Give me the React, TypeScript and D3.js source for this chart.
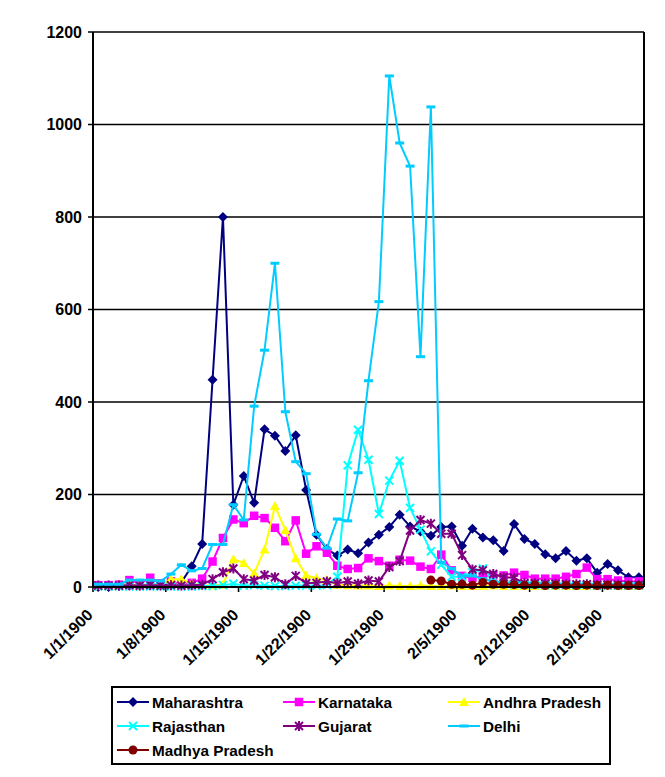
import { useEffect } from 'react';
import * as d3 from 'd3';

// daily counts, 1/1/1900 .. 2/22/1900 (53 days)
const tickLabels = ['1/1/1900', '1/8/1900', '1/15/1900', '1/22/1900', '1/29/1900', '2/5/1900', '2/12/1900', '2/19/1900'];
const yTicks = [0, 200, 400, 600, 800, 1000, 1200];

const maharashtra = [0, 0, 2, 3, 3, 5, 5, 6, 10, 45, 93, 448, 800, 178, 240, 182, 341, 327, 294, 328, 210, 113, 82, 68, 81, 73, 96, 113, 130, 156, 131, 120, 111, 130, 131, 89, 126, 107, 101, 78, 136, 104, 93, 71, 62, 78, 57, 62, 31, 50, 36, 21, 21];
const karnataka = [4, 4, 5, 15, 8, 20, 8, 12, 6, 9, 18, 55, 106, 146, 138, 154, 149, 128, 99, 144, 72, 88, 74, 46, 39, 41, 62, 56, 46, 59, 57, 44, 39, 70, 36, 24, 20, 24, 25, 25, 31, 26, 18, 18, 18, 22, 28, 42, 17, 17, 14, 12, 12];
const andhraPradesh = [2, 2, 3, 6, 3, 4, 3, 17, 17, 7, 4, 3, 5, 60, 52, 30, 81, 175, 123, 62, 25, 19, 15, 5, 4, 3, 3, 2, 3, 2, 2, 3, 2, 2, 3, 2, 2, 2, 3, 2, 2, 2, 2, 2, 2, 2, 2, 2, 2, 2, 2, 2, 2];
const rajasthan = [1, 1, 1, 1, 1, 1, 1, 1, 1, 1, 2, 2, 4, 7, 3, 4, 3, 2, 2, 3, 3, 3, 4, 22, 263, 340, 275, 158, 230, 273, 171, 124, 77, 48, 22, 22, 32, 40, 14, 8, 6, 5, 5, 4, 4, 4, 4, 4, 3, 3, 3, 3, 3];
const gujarat = [3, 3, 3, 4, 3, 4, 3, 4, 3, 4, 5, 17, 32, 40, 17, 14, 26, 21, 6, 24, 8, 9, 12, 8, 12, 7, 14, 12, 43, 56, 122, 145, 137, 115, 115, 69, 38, 36, 28, 21, 20, 8, 8, 7, 7, 6, 6, 6, 5, 5, 5, 5, 5];
const delhi = [6, 6, 6, 15, 15, 15, 13, 28, 48, 35, 40, 92, 92, 178, 145, 391, 512, 700, 379, 271, 245, 114, 84, 147, 143, 247, 446, 617, 1105, 960, 910, 498, 1038, 53, 40, 24, 24, 18, 12, 10, 10, 9, 8, 8, 8, 7, 7, 7, 6, 6, 6, 6, 6];
const madhyaPradesh: (number | null)[] = [null, null, null, null, null, null, null, null, null, null, null, null, null, null, null, null, null, null, null, null, null, null, null, null, null, null, null, null, null, null, null, null, 15, 13, 6, 6, 4, 10, 6, 6, 5, 4, 5, 3, 4, 4, 3, 4, 3, 4, 3, 3, 3];

type MarkerKind = 'diamond' | 'square' | 'triangle' | 'x' | 'star' | 'dash' | 'circle';

const series: { name: string; values: (number | null)[]; color: string; marker: MarkerKind }[] = [
  { name: 'Maharashtra', values: maharashtra, color: '#000080', marker: 'diamond' },
  { name: 'Karnataka', values: karnataka, color: '#FF00FF', marker: 'square' },
  { name: 'Andhra Pradesh', values: andhraPradesh, color: '#FFFF00', marker: 'triangle' },
  { name: 'Rajasthan', values: rajasthan, color: '#00FFFF', marker: 'x' },
  { name: 'Gujarat', values: gujarat, color: '#800080', marker: 'star' },
  { name: 'Delhi', values: delhi, color: '#00CCFF', marker: 'dash' },
  { name: 'Madhya Pradesh', values: madhyaPradesh, color: '#800000', marker: 'circle' },
];

const W = 665;
const H = 777;
const margin = { top: 32, right: 21, bottom: 190, left: 93 };
const font = "Arial, 'Liberation Sans', sans-serif";

function Marker({ kind, x, y, color }: { kind: MarkerKind; x: number; y: number; color: string }) {
  switch (kind) {
    case 'diamond':
      return <path d={`M${x},${y - 5}L${x + 5},${y}L${x},${y + 5}L${x - 5},${y}Z`} fill={color} />;
    case 'square':
      return <rect x={x - 4.25} y={y - 4.25} width={8.5} height={8.5} fill={color} />;
    case 'triangle':
      return <path d={`M${x},${y - 5}L${x + 5},${y + 4}L${x - 5},${y + 4}Z`} fill={color} />;
    case 'x':
      return <path d={`M${x - 4},${y - 4}L${x + 4},${y + 4}M${x - 4},${y + 4}L${x + 4},${y - 4}`} stroke={color} strokeWidth={2} />;
    case 'star':
      return (
        <path
          d={`M${x - 4},${y - 4}L${x + 4},${y + 4}M${x - 4},${y + 4}L${x + 4},${y - 4}M${x},${y - 5}L${x},${y + 5}`}
          stroke={color}
          strokeWidth={2}
        />
      );
    case 'dash':
      return <rect x={x - 4.5} y={y - 1.5} width={9} height={3} fill={color} />;
    case 'circle':
      return <circle cx={x} cy={y} r={4.5} fill={color} />;
  }
}

export default function App() {
  useEffect(() => {
    document.body.style.margin = '0';
  }, []);

  const days = d3.range(maharashtra.length);
  const x = d3
    .scaleBand<number>()
    .domain(days)
    .range([margin.left, W - margin.right]);
  const cx = (i: number) => (x(i) ?? 0) + x.bandwidth() / 2;

  const y = d3
    .scaleLinear()
    .domain([0, 1200])
    .range([H - margin.bottom, margin.top]);

  const line = d3
    .line<number | null>()
    .defined((d) => d != null)
    .x((_d, i) => cx(i))
    .y((d) => y(d as number));

  const x0 = margin.left;
  const x1 = W - margin.right;
  const yBase = y(0);

  // legend layout
  const legendCols = [117, 283, 448];
  const legendRows = [702, 726, 750];

  return (
    <svg width={W} height={H} style={{ display: 'block', background: '#fff' }} fontFamily={font}>
      {/* gridlines */}
      {yTicks.map((t) => (
        <line key={t} x1={x0 - 5} x2={x1} y1={y(t)} y2={y(t)} stroke="#000" strokeWidth={1.6} />
      ))}
      {/* y labels */}
      {yTicks.map((t) => (
        <text
          key={'yl' + t}
          x={82}
          y={y(t)}
          textAnchor="end"
          dominantBaseline="central"
          fontSize={16}
          fontWeight="bold"
        >
          {t}
        </text>
      ))}
      {/* x ticks + labels */}
      {tickLabels.map((lab, k) => {
        const tx = x(k * 7) ?? 0;
        return (
          <g key={lab}>
            <line x1={tx} x2={tx} y1={yBase} y2={yBase + 5} stroke="#000" strokeWidth={1.6} />
            <text
              transform={`translate(${tx - 3},${yBase + 25}) rotate(-45)`}
              textAnchor="end"
              dominantBaseline="central"
              fontSize={16}
              fontWeight="bold"
            >
              {lab}
            </text>
          </g>
        );
      })}

      {/* series */}
      {series.map((s) => (
        <g key={s.name}>
          <path d={line(s.values) ?? ''} fill="none" stroke={s.color} strokeWidth={2} strokeLinejoin="round" />
          {s.values.map((v, i) =>
            v == null ? null : <Marker key={i} kind={s.marker} x={cx(i)} y={y(v)} color={s.color} />
          )}
        </g>
      ))}

      {/* frame */}
      <line x1={x0} x2={x0} y1={margin.top} y2={yBase} stroke="#000" strokeWidth={2} />
      <line x1={x1} x2={x1} y1={margin.top} y2={yBase} stroke="#000" strokeWidth={2} />
      <line x1={x0} x2={x1} y1={yBase} y2={yBase} stroke="#000" strokeWidth={2} />

      {/* legend */}
      <rect x={112} y={687} width={498} height={77} fill="#fff" stroke="#000" strokeWidth={2} />
      {series.map((s, k) => {
        const lx = legendCols[k % 3];
        const ly = legendRows[Math.floor(k / 3)];
        return (
          <g key={'lg' + s.name}>
            <line x1={lx} x2={lx + 32} y1={ly} y2={ly} stroke={s.color} strokeWidth={2} />
            <Marker kind={s.marker} x={lx + 16} y={ly} color={s.color} />
            <text x={lx + 35} y={ly} dominantBaseline="central" fontSize={15.3} fontWeight="bold">
              {s.name}
            </text>
          </g>
        );
      })}
    </svg>
  );
}
